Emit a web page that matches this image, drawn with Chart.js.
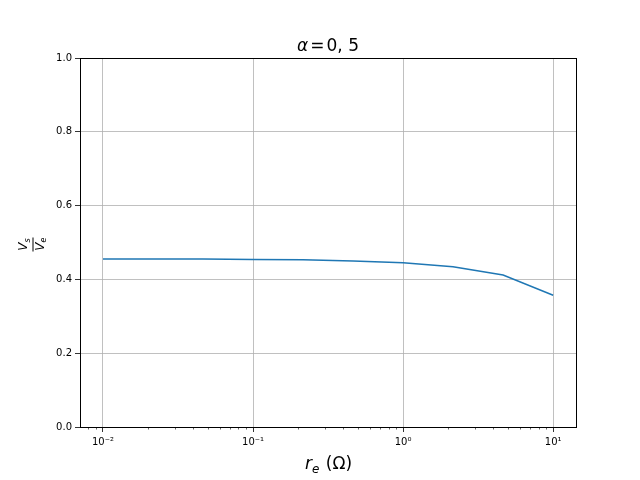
<!DOCTYPE html>
<html>
<head>
<meta charset="utf-8">
<script src="https://cdn.jsdelivr.net/npm/chart.js@4/dist/chart.umd.min.js"></script>
<style>
    html, body { margin: 0; padding: 0; background: #ffffff; }
    #wrap { width: 640px; height: 480px; }
</style>
</head>
<body>
<div id="wrap"><canvas id="chart" width="640" height="480"></canvas></div>
<script>
'use strict'

// r_e values (ohm), log-spaced from 1e-2 to 1e1
const resistances = [0.01, 0.0215, 0.0464, 0.1, 0.215, 0.464, 1, 2.15, 4.64, 10];
// Vs / Ve
const ratios = [0.455, 0.455, 0.455, 0.454, 0.453, 0.450, 0.445, 0.434, 0.412, 0.357];
const yTicks = [0, 0.2, 0.4, 0.6, 0.8, 1.0];
const xMajor = { 0.01: '10⁻²', 0.1: '10⁻¹', 1: '10⁰', 10: '10¹' };

const FONT = 'DejaVu Sans';

function isMajor(v) {
    return Object.keys(xMajor).some(k => Math.abs(Number(k) - v) < 1e-9);
}

// title and axis labels with sub/superscripts drawn by hand
const labelsPlugin = {
    id: 'labels',
    afterDraw(chart) {
        const ctx = chart.ctx;
        const area = chart.chartArea;
        const cx = (area.left + area.right) / 2;
        ctx.save();
        ctx.fillStyle = '#000000';
        ctx.textBaseline = 'alphabetic';
        ctx.textAlign = 'left';

        // title: alpha = 0, 5
        ctx.font = 'italic 17px ' + FONT;
        const wa = ctx.measureText('α').width;
        ctx.font = '17px ' + FONT;
        const weq = ctx.measureText('=').width;
        const wnum = ctx.measureText('0, 5').width;
        const gap = 2;
        let x0 = cx - (wa + gap + weq + gap + wnum) / 2;
        ctx.font = 'italic 17px ' + FONT;
        ctx.fillText('α', x0, 51);
        ctx.font = '17px ' + FONT;
        ctx.fillText('=', x0 + wa + gap, 51);
        ctx.fillText('0, 5', x0 + wa + gap + weq + gap, 51);

        // x label: r_e (Ω)
        ctx.font = 'italic 17px ' + FONT;
        const wrr = ctx.measureText('r').width;
        ctx.font = 'italic 12px ' + FONT;
        const we = ctx.measureText('e').width;
        ctx.font = '17px ' + FONT;
        const wo = ctx.measureText(' (Ω)').width;
        x0 = cx - (wrr + we + wo) / 2;
        ctx.font = 'italic 17px ' + FONT;
        ctx.fillText('r', x0, 469);
        ctx.font = 'italic 12px ' + FONT;
        ctx.fillText('e', x0 + wrr, 473);
        ctx.font = '17px ' + FONT;
        ctx.fillText(' (Ω)', x0 + wrr + we + 1, 469);

        // y label: fraction Vs / Ve, rotated
        ctx.translate(33, (area.top + area.bottom) / 2 + 2);
        ctx.rotate(-Math.PI / 2);
        ctx.font = 'italic 12px ' + FONT;
        const wv = ctx.measureText('V').width;
        ctx.font = 'italic 8px ' + FONT;
        const ws = ctx.measureText('s').width;
        const nx = -(wv + ws) / 2;
        // numerator
        ctx.font = 'italic 12px ' + FONT;
        ctx.fillText('V', nx, -6);
        ctx.font = 'italic 8px ' + FONT;
        ctx.fillText('s', nx + wv, -3);
        // bar
        ctx.fillRect(-7, -0.5, 14, 1);
        // denominator
        ctx.font = 'italic 12px ' + FONT;
        ctx.fillText('V', nx, 11);
        ctx.font = 'italic 8px ' + FONT;
        ctx.fillText('e', nx + wv, 13);
        ctx.restore();
    }
};

// box frame on top and right, plus short minor tick marks on x
const framePlugin = {
    id: 'frame',
    afterDraw(c) {
        const a = c.chartArea;
        const ctx = c.ctx;
        ctx.save();
        ctx.strokeStyle = '#000000';
        ctx.lineWidth = 1;
        ctx.strokeRect(Math.round(a.left) + 0.5, Math.round(a.top) + 0.5,
            Math.round(a.right - a.left), Math.round(a.bottom - a.top));

        const xs = c.scales.x;
        ctx.lineWidth = 0.6;
        ctx.beginPath();
        xs.ticks.forEach(t => {
            if (isMajor(t.value)) return;
            const px = Math.round(xs.getPixelForValue(t.value)) + 0.5;
            ctx.moveTo(px, a.bottom);
            ctx.lineTo(px, a.bottom + 2.5);
        });
        ctx.stroke();
        ctx.restore();
    }
};

const ctxChart = document.getElementById('chart').getContext('2d');

const chart = new Chart(ctxChart, {
    type: 'line',
    data: {
        datasets: [{
            data: resistances.map((r, i) => ({ x: r, y: ratios[i] })),
            borderColor: '#1f77b4',
            borderWidth: 1.5,
            pointRadius: 0,
            tension: 0,
            fill: false
        }]
    },
    options: {
        responsive: false,
        animation: false,
        devicePixelRatio: 1,
        layout: { padding: { left: 0, top: 58, right: 64, bottom: 0 } },
        plugins: {
            legend: { display: false },
            title: { display: false },
            tooltip: { enabled: false }
        },
        scales: {
            x: {
                type: 'logarithmic',
                min: 0.00703,
                max: 14.2,
                afterFit(scale) { scale.height = 53; },
                afterBuildTicks(scale) {
                    const ticks = [];
                    for (let e = -3; e <= 1; e++) {
                        for (let m = 1; m <= 9; m++) {
                            const v = m * Math.pow(10, e);
                            if (v >= scale.min && v <= scale.max) ticks.push({ value: v });
                        }
                    }
                    scale.ticks = ticks;
                },
                border: { color: '#000000', width: 1 },
                grid: {
                    color: c => (c.tick && isMajor(c.tick.value)) ? '#b0b0b0' : 'rgba(0,0,0,0)',
                    tickColor: c => (c.tick && isMajor(c.tick.value)) ? '#000000' : 'rgba(0,0,0,0)',
                    tickLength: 5,
                    lineWidth: 0.8
                },
                ticks: {
                    autoSkip: false,
                    maxRotation: 0,
                    padding: 4,
                    color: '#000000',
                    font: { family: FONT, size: 10 },
                    callback: (v) => {
                        for (const k in xMajor) {
                            if (Math.abs(Number(k) - v) < 1e-9) return xMajor[k];
                        }
                        return '';
                    }
                }
            },
            y: {
                min: 0,
                max: 1,
                afterFit(scale) { scale.width = 80; },
                afterBuildTicks(scale) {
                    scale.ticks = yTicks.map(v => ({ value: v }));
                },
                border: { color: '#000000', width: 1 },
                grid: {
                    color: '#b0b0b0',
                    tickColor: '#000000',
                    tickLength: 5,
                    lineWidth: 0.8
                },
                ticks: {
                    padding: 3,
                    color: '#000000',
                    font: { family: FONT, size: 10 },
                    callback: v => v.toFixed(1)
                }
            }
        }
    },
    plugins: [labelsPlugin, framePlugin]
});
</script>
</body>
</html>
